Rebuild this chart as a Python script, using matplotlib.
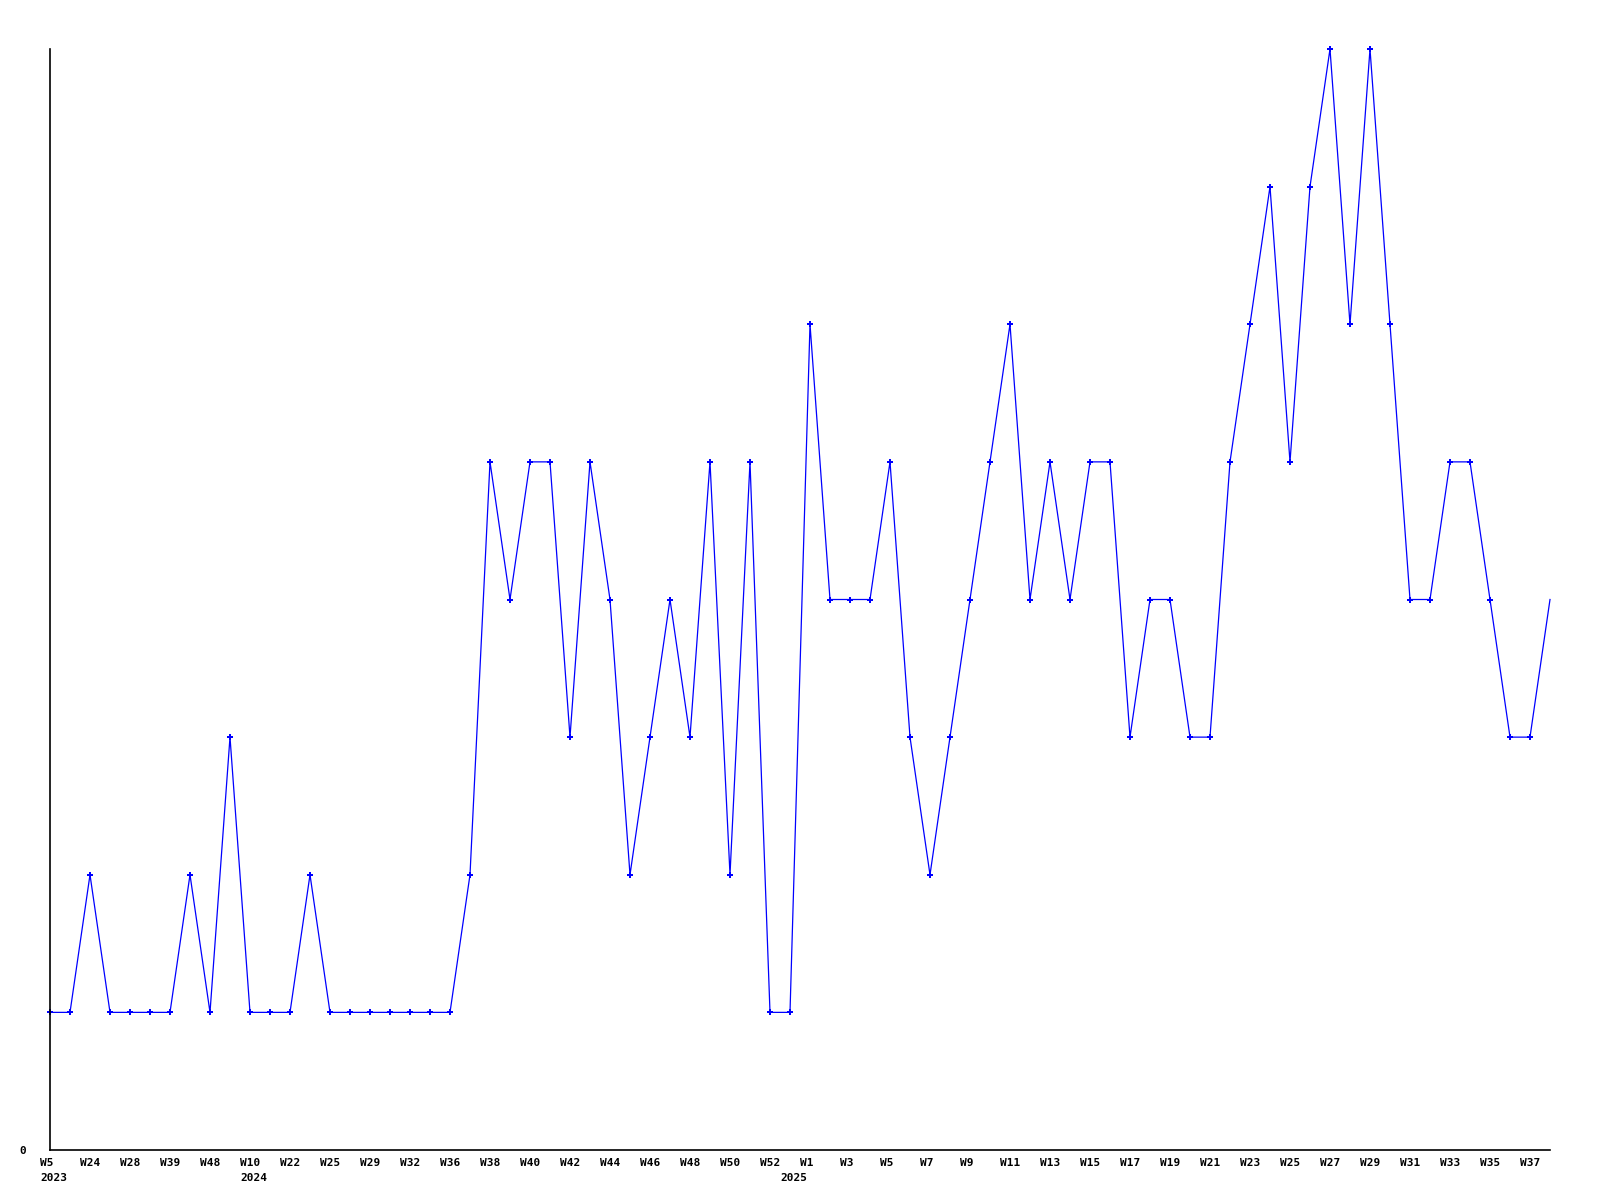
import matplotlib
matplotlib.use("Agg")
import matplotlib.pyplot as plt
from matplotlib.transforms import ScaledTranslation, blended_transform_factory

# one value per week, left to right
values = [
    1, 1, 2, 1, 1, 1, 1, 2, 1, 3,
    1, 1, 1, 2, 1, 1, 1, 1, 1, 1,
    1, 2, 5, 4, 5, 5, 3, 5, 4, 2,
    3, 4, 3, 5, 2, 5, 1, 1, 6, 4,
    4, 4, 5, 3, 2, 3, 4, 5, 6, 4,
    5, 4, 5, 5, 3, 4, 4, 3, 3, 5,
    6, 7, 5, 7, 8, 6, 8, 6, 4, 4,
    5, 5, 4, 3, 3, 4,
]

# labels shown under every second point
week_labels = [
    "W5", "W24", "W28", "W39", "W48", "W10", "W22", "W25", "W29", "W32",
    "W36", "W38", "W40", "W42", "W44", "W46", "W48", "W50", "W52", "W1",
    "W3", "W5", "W7", "W9", "W11", "W13", "W15", "W17", "W19", "W21",
    "W23", "W25", "W27", "W29", "W31", "W33", "W35", "W37",
]
# year starts (point index -> year)
year_starts = [0, 10, 37]
years = ["2023", "2024", "2025"]

plt.rcParams["font.family"] = ["DejaVu Sans Mono"]
plt.rcParams["font.weight"] = "bold"

fig = plt.figure(figsize=(16, 12), dpi=100)
ax = fig.add_axes([50 / 1600, 50 / 1200, 1500 / 1600, 1101 / 1200])

x = list(range(len(values)))
ax.plot(x, values, color="#0000ff", linewidth=0.9, marker="P", markersize=5,
        markeredgewidth=0, markevery=slice(0, len(values) - 1), clip_on=False)

ax.set_xlim(0, len(values) - 1)
ax.set_ylim(0, max(values))

for side in ["top", "right"]:
    ax.spines[side].set_visible(False)
for side in ["left", "bottom"]:
    ax.spines[side].set_linewidth(1.2)
    ax.spines[side].set_color("black")

ticks = list(range(0, len(values), 2))[:len(week_labels)]
ax.set_xticks(ticks, week_labels)
ax.set_yticks([0], ["0"])
ax.tick_params(axis="x", length=0, pad=6, labelsize=8)
ax.tick_params(axis="y", length=0, pad=17, labelsize=8)

shift = ScaledTranslation(-10 / 100, 0, fig.dpi_scale_trans)
for lab in ax.get_xticklabels():
    lab.set_horizontalalignment("left")
    lab.set_transform(lab.get_transform() + shift)

trans = blended_transform_factory(ax.transData, ax.transAxes)
year_shift = ScaledTranslation(-10 / 100, -28 / 100, fig.dpi_scale_trans)
for idx, yr in zip(year_starts, years):
    ax.text(idx, 0, yr, transform=trans + year_shift, ha="left", va="center",
            fontsize=8, fontweight="bold")

fig.savefig("out.png", dpi=100, facecolor="white")
